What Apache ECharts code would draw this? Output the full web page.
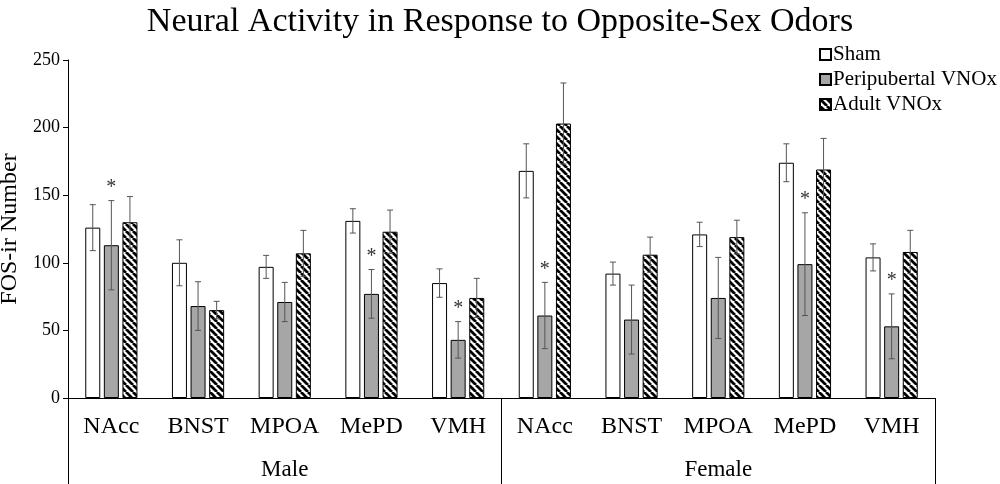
<!DOCTYPE html>
<html>
<head>
<meta charset="utf-8">
<title>Neural Activity in Response to Opposite-Sex Odors</title>
<script src="https://cdn.jsdelivr.net/npm/echarts@6/dist/echarts.min.js"></script>
<style>
  html, body { margin: 0; padding: 0; background: #fff; }
  #chart { width: 1000px; height: 484px; }
</style>
</head>
<body>
<div id="chart"></div>
<script>
// regions, grouped by sex
var regions = ['NAcc', 'BNST', 'MPOA', 'MePD', 'VMH', 'NAcc', 'BNST', 'MPOA', 'MePD', 'VMH'];
var sexes = ['Male', 'Female'];
var yTicks = [0, 50, 100, 150, 200, 250];

// means and error (SEM)
var sham = [126, 100, 97, 131, 85, 168, 92, 121, 174, 104];
var shamErr = [17, 17, 8.5, 9, 10.5, 20, 8.5, 9, 14, 10];
var peri = [113, 68, 71, 77, 43, 61, 58, 74, 99, 53];
var periErr = [33, 18, 14.5, 18, 13.5, 24.5, 25.5, 30, 38, 24];
var adult = [130, 65, 107, 123, 74, 203, 106, 119, 169, 108];
var adultErr = [19, 6.5, 17, 16, 14.5, 30, 13, 12.5, 23, 16];
// significance marks over the peripubertal bars
var periSig = [1, 0, 0, 1, 1, 1, 0, 0, 1, 1];

var serif = 'Liberation Serif';

// diagonal hatch for the adult bars
function hatch() {
    var c = document.createElement('canvas');
    var s = 7;
    c.width = s; c.height = s;
    var g = c.getContext('2d');
    g.fillStyle = '#fff';
    g.fillRect(0, 0, s, s);
    g.strokeStyle = '#000';
    g.lineWidth = 2.8;
    g.beginPath();
    for (var k = -s; k <= s; k += s) {
        g.moveTo(k, 0);
        g.lineTo(k + s, s);
    }
    g.stroke();
    return c;
}

var barW = 15;
var step = 18.6;

function errorSeries(name, means, errs, slot, sig) {
    var rows = means.map(function (v, i) { return [i, v, errs[i], sig ? sig[i] : 0]; });
    return {
        type: 'custom',
        name: name + ' err',
        data: rows,
        z: 5,
        silent: true,
        renderItem: function (params, api) {
            var i = api.value(0);
            var m = api.value(1);
            var e = api.value(2);
            var top = api.coord([i, m + e]);
            var bot = api.coord([i, m - e]);
            var x = top[0] + slot * step;
            var cap = 3;
            var st = { stroke: '#555', lineWidth: 1 };
            var kids = [
                { type: 'line', shape: { x1: x, y1: top[1], x2: x, y2: bot[1] }, style: st },
                { type: 'line', shape: { x1: x - cap, y1: top[1], x2: x + cap, y2: top[1] }, style: st },
                { type: 'line', shape: { x1: x - cap, y1: bot[1], x2: x + cap, y2: bot[1] }, style: st }
            ];
            if (api.value(3)) {
                kids.push({
                    type: 'text',
                    style: {
                        text: '*', x: x, y: top[1] - 3,
                        align: 'center', verticalAlign: 'bottom',
                        fontFamily: serif, fontSize: 20, fill: '#333'
                    }
                });
            }
            return { type: 'group', children: kids };
        }
    };
}

var chart = echarts.init(document.getElementById('chart'));

var option = {
    animation: false,
    title: {
        text: 'Neural Activity in Response to Opposite-Sex Odors',
        left: 'center',
        top: 0,
        textStyle: { fontFamily: serif, fontSize: 34, fontWeight: 'normal', color: '#000' }
    },
    legend: {
        orient: 'vertical',
        left: 814,
        top: 39,
        itemWidth: 11,
        itemHeight: 11,
        itemGap: 4,
        icon: 'rect',
        data: ['Sham', 'Peripubertal VNOx', 'Adult VNOx'],
        textStyle: { fontFamily: serif, fontSize: 21, color: '#000', padding: [0, 0, 0, -3] }
    },
    grid: { left: 68, right: 65, top: 60, bottom: 86, outerBoundsMode: 'none' },
    xAxis: [{
        type: 'category',
        data: regions.map(function (r, i) { return i; }),
        axisLine: { lineStyle: { color: '#000', width: 1 } },
        axisTick: { show: false },
        axisLabel: {
            interval: 0,
            margin: 17,
            fontFamily: serif, fontSize: 24, color: '#000',
            formatter: function (v) { return regions[v]; }
        }
    }, {
        type: 'category',
        data: sexes,
        position: 'bottom',
        axisLine: { show: false },
        axisTick: { show: true, length: 86, lineStyle: { color: '#000', width: 1 } },
        axisLabel: { interval: 0, margin: 60, fontFamily: serif, fontSize: 23, color: '#000' }
    }],
    yAxis: {
        type: 'value',
        min: yTicks[0],
        max: yTicks[yTicks.length - 1],
        interval: yTicks[1] - yTicks[0],
        name: 'FOS-ir Number',
        nameLocation: 'middle',
        nameGap: 37,
        nameTextStyle: { fontFamily: serif, fontSize: 24, color: '#000' },
        axisLine: { show: true, lineStyle: { color: '#000', width: 1 } },
        axisTick: { show: true, length: 5, lineStyle: { color: '#000' } },
        axisLabel: { fontFamily: serif, fontSize: 18, color: '#000', margin: 8 },
        splitLine: { show: false }
    },
    series: [{
        name: 'Sham',
        type: 'bar',
        data: sham,
        barWidth: barW,
        barGap: '24%',
        itemStyle: { color: '#fff', borderColor: '#000', borderWidth: 1 }
    }, {
        name: 'Peripubertal VNOx',
        type: 'bar',
        data: peri,
        barWidth: barW,
        barGap: '24%',
        itemStyle: { color: '#a6a6a6', borderColor: '#000', borderWidth: 1 }
    }, {
        name: 'Adult VNOx',
        type: 'bar',
        data: adult,
        barWidth: barW,
        barGap: '24%',
        itemStyle: { color: { image: hatch(), repeat: 'repeat' }, borderColor: '#000', borderWidth: 1 }
    },
    errorSeries('Sham', sham, shamErr, -1),
    errorSeries('Peripubertal VNOx', peri, periErr, 0, periSig),
    errorSeries('Adult VNOx', adult, adultErr, 1)
    ]
};

chart.setOption(option);
</script>
</body>
</html>
